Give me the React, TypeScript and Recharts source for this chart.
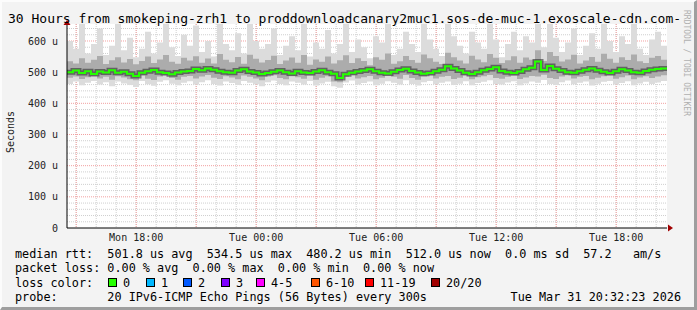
import React from "react";
import { ComposedChart, Area, Line, XAxis, YAxis, CartesianGrid, ReferenceDot } from "recharts";

// one column = 18 minutes, graph starts Mon 14:32
const STEP_H = 0.3;
const SPAN_H = 30;
const Y_MAX = 654.5;

const medianRtt = [
  500, 505, 497, 503, 494, 502, 499, 506, 498, 501,
  495, 488, 498, 503, 507, 500, 497, 493, 499, 502,
  504, 510, 506, 512, 508, 503, 500, 498, 505, 509,
  502, 499, 494, 497, 501, 505, 500, 496, 503, 499,
  497, 502, 506, 500, 495, 481, 493, 498, 502, 505,
  509, 503, 498, 496, 501, 507, 511, 504, 499, 495,
  497, 503, 508, 519, 512, 505, 498, 494, 500, 506,
  510, 516, 504, 500, 497, 502, 509, 514, 534, 507,
  520, 511, 505, 500, 498, 503, 508, 512, 506, 501,
  497, 503, 509, 505, 500, 498, 504, 508, 510, 512,
];

const smokeMax = [
  600, 575, 660, 560, 590, 640, 555, 585, 660, 570,
  610, 548, 575, 630, 560, 595, 660, 580, 552, 620,
  585, 650, 565, 600, 550, 660, 590, 570, 625, 560,
  660, 600, 575, 590, 640, 555, 585, 615, 570, 660,
  550, 595, 575, 635, 560, 590, 660, 565, 605, 580,
  545, 615, 595, 660, 555, 575, 630, 590, 565, 660,
  605, 575, 552, 660, 615, 585, 560, 630, 595, 575,
  660, 605, 548, 590, 630, 570, 615, 595, 660, 580,
  660, 610, 565, 595, 640, 555, 585, 625, 575, 660,
  600, 565, 615, 590, 660, 575, 555, 605, 630, 585,
];

const smokeHi = [
  535, 528, 545, 530, 540, 552, 526, 538, 548, 531,
  542, 525, 536, 550, 529, 541, 555, 533, 527, 546,
  537, 551, 530, 544, 528, 558, 540, 532, 549, 527,
  556, 543, 531, 539, 553, 526, 537, 547, 530, 555,
  524, 541, 533, 550, 528, 538, 554, 529, 545, 536,
  522, 548, 540, 560, 527, 535, 552, 539, 530, 557,
  545, 533, 526, 562, 548, 537, 528, 553, 541, 532,
  558, 546, 529, 538, 551, 530, 547, 540, 570, 536,
  565, 552, 534, 541, 556, 528, 537, 549, 533, 559,
  543, 530, 548, 539, 557, 535, 529, 546, 552, 540,
];

const smokeLo = [
  482, 486, 478, 484, 488, 480, 485, 476, 487, 483,
  477, 474, 489, 479, 475, 486, 490, 481, 476, 485,
  488, 480, 486, 491, 482, 478, 487, 483, 477, 489,
  485, 480, 474, 486, 490, 481, 477, 487, 484, 479,
  489, 476, 482, 487, 470, 468, 485, 490, 480, 484,
  488, 477, 482, 489, 485, 479, 491, 481, 476, 486,
  490, 480, 485, 488, 478, 482, 489, 477, 484, 487,
  491, 481, 479, 485, 489, 478, 483, 488, 486, 492,
  481, 478, 486, 490, 480, 485, 488, 477, 482, 487,
  490, 479, 484, 489, 477, 483, 487, 481, 486, 490,
];

const smokeMin = [
  462, 470, 458, 466, 472, 460, 468, 455, 470, 464,
  459, 452, 472, 461, 456, 469, 474, 463, 458, 466,
  471, 460, 468, 474, 462, 457, 470, 465, 459, 472,
  466, 461, 455, 468, 473, 462, 458, 470, 466, 460,
  472, 457, 464, 469, 455, 450, 467, 473, 460, 465,
  470, 458, 463, 471, 466, 460, 474, 462, 457, 468,
  472, 461, 466, 470, 459, 463, 471, 458, 465, 469,
  474, 462, 460, 467, 471, 458, 464, 470, 466, 475,
  462, 459, 468, 473, 461, 466, 470, 457, 463, 469,
  472, 460, 465, 471, 458, 464, 469, 462, 467, 472,
];

const xTickHours = [3.46, 9.46, 15.46, 21.46, 27.46];
const xTickLabels = ["Mon 18:00", "Tue 00:00", "Tue 06:00", "Tue 12:00", "Tue 18:00"];
const yTicks = [0, 100, 200, 300, 400, 500, 600];

const lossColors = [
  { label: "0", color: "#26ff00", x: 108 },
  { label: "1", color: "#00b8ff", x: 146 },
  { label: "2", color: "#0059ff", x: 183 },
  { label: "3", color: "#7e00ff", x: 221 },
  { label: "4-5", color: "#ff00ff", x: 256 },
  { label: "6-10", color: "#ff5500", x: 311 },
  { label: "11-19", color: "#ff0000", x: 365 },
  { label: "20/20", color: "#a10000", x: 431 },
];

const rows = medianRtt.map((m, i) => ({
  t: i * STEP_H,
  med: m,
  outer: [smokeMin[i], smokeMax[i]],
  inner: [smokeLo[i], smokeHi[i]],
}));
// close the last step at the right edge
const last = rows[rows.length - 1];
rows.push({ ...last, t: SPAN_H });

const mono = "'DejaVu Sans Mono', monospace";
// svg text collapses runs of spaces, rrdtool legends rely on them
const pre = (s: string) => s.replace(/ /g, "\u00a0");

const hourLines = Array.from({ length: 30 }, (_, k) => 0.46 + k);
const vMinor = (p: any) => hourLines.map((h) => p.offset.left + (h / SPAN_H) * p.offset.width);
const vMajor = (p: any) => hourLines.filter((_, k) => k % 3 === 0).map((h) => p.offset.left + (h / SPAN_H) * p.offset.width);
const yAt = (p: any, v: number) => p.offset.top + p.offset.height - (v / Y_MAX) * p.offset.height;
const hMinor = (p: any) => Array.from({ length: 32 }, (_, k) => yAt(p, (k + 1) * 20)).filter((_, k) => (k + 1) % 5 !== 0);
const hMajor = (p: any) => [100, 200, 300, 400, 500, 600].map((v) => yAt(p, v));

const ArrowRight = (p: any) => (
  <polygon points={`${p.cx + 1},${p.cy - 3.5} ${p.cx + 6},${p.cy} ${p.cx + 1},${p.cy + 3.5}`} fill="#a10000" />
);
const ArrowUp = (p: any) => (
  <polygon points={`${p.cx - 3.5},${p.cy + 1} ${p.cx},${p.cy - 4} ${p.cx + 3.5},${p.cy + 1}`} fill="#a10000" />
);

export default function App() {
  return (
    <div
      style={{
        position: "absolute", left: 0, top: 0, width: 697, height: 310, boxSizing: "border-box",
        background: "#f3f3f3", borderTop: "2px solid #fcfcfc", borderLeft: "2px solid #fcfcfc",
        borderRight: "3px solid #9e9e9e", borderBottom: "3px solid #9e9e9e",
      }}
    >
      <div style={{ position: "absolute", left: -2, top: -2 }}>
        <ComposedChart width={697} height={310} data={rows} margin={{ top: 24, right: 30, bottom: 62, left: 7 }}>
          <CartesianGrid fill="#ffffff" stroke="#cfcfcf" strokeDasharray="1 1"
            verticalCoordinatesGenerator={vMinor} horizontalCoordinatesGenerator={hMinor} />
          <CartesianGrid stroke="#f2a0a0" strokeDasharray="1 1"
            verticalCoordinatesGenerator={vMajor} horizontalCoordinatesGenerator={hMajor} />
          <XAxis dataKey="t" type="number" domain={[0, SPAN_H]} ticks={xTickHours} height={20}
            tickFormatter={(v: number, i: number) => xTickLabels[i]} tickLine={false} tickSize={4} tickMargin={2}
            axisLine={{ stroke: "#000" }} tick={{ fontFamily: mono, fontSize: 10, fill: "#222" }} />
          <YAxis type="number" domain={[0, Y_MAX]} ticks={yTicks} width={60} allowDataOverflow
            tickFormatter={(v: number) => (v === 0 ? "0" : `${v} u`)} tickLine={false} tickSize={6} tickMargin={3}
            axisLine={{ stroke: "#000" }} tick={{ fontFamily: mono, fontSize: 10, fill: "#222" }} />
          <Area dataKey="outer" type="stepAfter" stroke="none" fill="#dcdcdc" fillOpacity={1} isAnimationActive={false} />
          <Area dataKey="inner" type="stepAfter" stroke="none" fill="#acacac" fillOpacity={1} isAnimationActive={false} />
          <Line dataKey="med" type="stepAfter" stroke="#303030" strokeOpacity={0.6} strokeWidth={5} dot={false} isAnimationActive={false} />
          <Line dataKey="med" type="stepAfter" stroke="#26ff00" strokeWidth={2} dot={false} isAnimationActive={false} />
          <ReferenceDot x={SPAN_H} y={0} r={0} ifOverflow="visible" shape={ArrowRight} />
          <ReferenceDot x={0} y={Y_MAX} r={0} ifOverflow="visible" shape={ArrowUp} />
        </ComposedChart>
        <svg width={697} height={310} style={{ position: "absolute", left: 0, top: 0, pointerEvents: "none" }}
          fontFamily={mono}>
          <text x={8} y={23} fontSize={13} fill="#000">
            {pre("30 Hours from smokeping-zrh1 to proddownloadcanary2muc1.sos-de-muc-1.exoscale-cdn.com-")}
          </text>
          <text x={10.5} y={132} fontSize={10} fill="#222" textAnchor="middle" dominantBaseline="central"
            transform="rotate(-90 10.5 132)">Seconds</text>
          <text x={686.5} y={10} fontSize={8} fill="#b0b0b0" transform="rotate(90 686.5 10)" dominantBaseline="central">
            {pre("RRDTOOL / TOBI OETIKER")}
          </text>
          <g fontSize={11.8} fill="#000">
            <text x={15} y={257.5}>{pre("median rtt:  501.8 us avg  534.5 us max  480.2 us min  512.0 us now  0.0 ms sd  57.2   am/s")}</text>
            <text x={15} y={272}>{pre("packet loss: 0.00 % avg  0.00 % max  0.00 % min  0.00 % now")}</text>
            <text x={15} y={286.5}>{pre("loss color:")}</text>
            {lossColors.map((c) => (
              <g key={c.label}>
                <rect x={c.x + 0.5} y={278.5} width={8} height={8} fill={c.color} stroke="#000" strokeWidth={1} />
                <text x={c.x + 15} y={286.5}>{c.label}</text>
              </g>
            ))}
            <text x={15} y={301}>{pre("probe:       20 IPv6-ICMP Echo Pings (56 Bytes) every 300s")}</text>
            <text x={681} y={301} textAnchor="end">{pre("Tue Mar 31 20:32:23 2026")}</text>
          </g>
        </svg>
      </div>
    </div>
  );
}
